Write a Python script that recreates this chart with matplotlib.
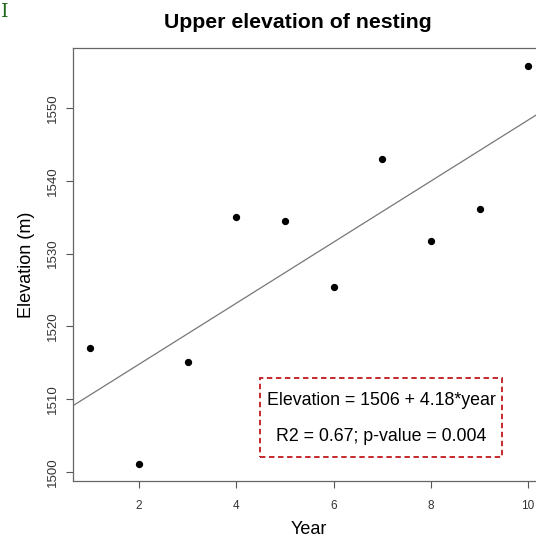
import numpy as np
import matplotlib
matplotlib.use("Agg")
import matplotlib.pyplot as plt
from matplotlib.patches import Rectangle

plt.rcParams['font.family'] = ['Liberation Sans', 'DejaVu Sans']

# -----------------------------
# Data
# -----------------------------
year = [1, 2, 3, 4, 5, 6, 7, 8, 9, 10]
elevation = [1517.1, 1501.1, 1515.1, 1535.0, 1534.5, 1525.4, 1543.0, 1531.7, 1536.1, 1555.8]
x_ticks = [2, 4, 6, 8, 10]
y_ticks = [1500, 1510, 1520, 1530, 1540, 1550]
eq_text = "Elevation = 1506 + 4.18*year"
stat_text = "R2 = 0.67; p-value = 0.004"

fig = plt.figure(figsize=(5.36, 5.41), dpi=100)
# axes run past the right edge, like the cropped original
ax = fig.add_axes([0.136, 0.111, 0.882, 0.800])

ax.scatter(year, elevation, s=18, color='black', zorder=3)

# regression line across the whole plot
slope, intercept = np.polyfit(year, elevation, 1)
ax.axline((0, intercept), slope=slope, color='#777777', linewidth=0.9)

ax.set_xlim(0.64, 10.36)
ax.set_ylim(1498.8, 1558.2)
ax.set_xticks(x_ticks)
ax.set_yticks(y_ticks)
ax.tick_params(axis='x', labelsize=8.5, length=5, color='#555555',
               labelcolor='#333333', pad=9)
ax.tick_params(axis='y', labelsize=9.5, length=5, color='#555555',
               labelcolor='#333333', pad=5)
for lab in ax.get_yticklabels():
    lab.set_rotation(90)
    lab.set_va('center')
for sp in ax.spines.values():
    sp.set_color('#666666')
    sp.set_linewidth(0.9)

ax.set_xlabel("Year", fontsize=13, labelpad=6)
ax.set_ylabel("Elevation (m)", fontsize=13, labelpad=9)

fig.text(0.555, 0.959, "Upper elevation of nesting", fontsize=15.3,
         fontweight='bold', ha='center', va='center')
fig.text(0.002, 0.978, "I", fontsize=14, family='serif', color='#1f6b1f',
         ha='left', va='center')

# dashed box with the fit summary
box = Rectangle((0.396, 0.055), 0.512, 0.183, transform=ax.transAxes,
                fill=False, edgecolor='#c0181c', linestyle=(0, (3, 2)),
                linewidth=1.3, zorder=4)
ax.add_patch(box)
ax.text(0.652, 0.187, eq_text, transform=ax.transAxes, fontsize=12.8,
        ha='center', va='center')
ax.text(0.652, 0.102, stat_text, transform=ax.transAxes, fontsize=12.8,
        ha='center', va='center')

plt.savefig("out.png", dpi=100)
